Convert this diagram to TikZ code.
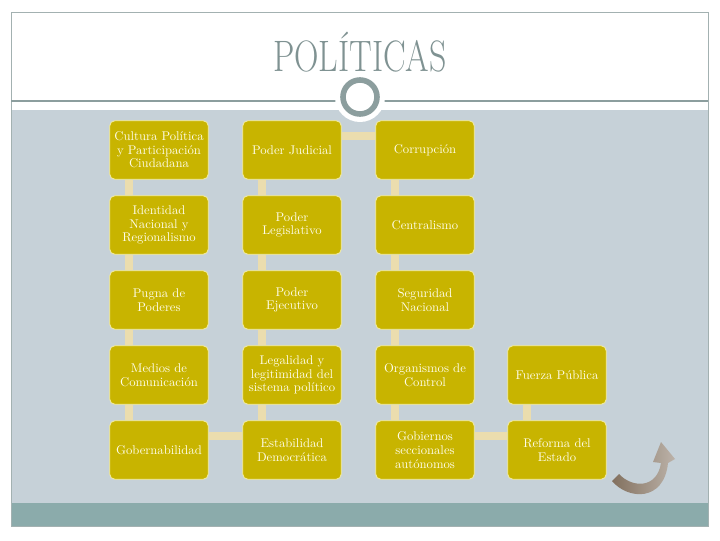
\documentclass[tikz,border=0pt]{standalone}
\usepackage{graphicx}
\usetikzlibrary{calc}

\definecolor{fondo}{HTML}{C6D1D8}
\definecolor{barra}{HTML}{8BABAB}
\definecolor{gris}{HTML}{8C9E9E}
\definecolor{titulo}{HTML}{7F9292}
\definecolor{oro}{HTML}{C8B400}
\definecolor{borde}{HTML}{F5EFA8}
\definecolor{beige}{HTML}{EBDDAE}
\definecolor{texto}{HTML}{FFFDE8}

\tikzset{
  caja/.style={draw=borde, fill=oro, rounded corners=4pt, line width=0.6pt,
    minimum width=74pt, minimum height=44pt, align=center, text=texto,
    font=\fontsize{9.5}{10.2}\selectfont, inner sep=1pt},
  conector/.style={draw=beige, line width=6pt}
}

\begin{document}
\begin{tikzpicture}[x=0.75pt, y=-0.75pt]
  \useasboundingbox (0,0) rectangle (720,540);
  % fondo de la diapositiva
  \fill[white] (11,12) rectangle (708,526);
  \fill[fondo] (11,110) rectangle (708,503);
  \fill[barra] (11,503) rectangle (708,526);
  \draw[gris!80, line width=0.6pt] (11,12) rectangle (708,526);
  \draw[gris, line width=0.8pt] (11,101) -- (708,101);
  % circulo
  \coordinate (O) at (360,97);
  \fill[white] (O) circle (25);
  \draw[gris, line width=4.2pt] (O) circle (17);
  \node[text=titulo, font=\fontsize{33}{36}\selectfont] (tit) at (360,52)
    {\scalebox{0.77}[1]{POLÍTICAS}};

  % columna 1
  \node[caja] (cult)  at (159,150) {Cultura Política\\y Participación\\Ciudadana};
  \node[caja] (ident) at (159,225) {Identidad\\Nacional y\\Regionalismo};
  \node[caja] (pugna) at (159,300) {Pugna de\\Poderes};
  \node[caja] (medios) at (159,375) {Medios de\\Comunicación};
  \node[caja] (gober) at (159,450) {Gobernabilidad};
  % columna 2
  \node[caja] (judi)  at (292,150) {Poder Judicial};
  \node[caja] (legis) at (292,225) {Poder\\Legislativo};
  \node[caja] (ejec)  at (292,300) {Poder\\Ejecutivo};
  \node[caja] (legal) at (292,375) {Legalidad y\\legitimidad del\\sistema político};
  \node[caja] (estab) at (292,450) {Estabilidad\\Democrática};
  % columna 3
  \node[caja] (corr)  at (425,150) {Corrupción};
  \node[caja] (centr) at (425,225) {Centralismo};
  \node[caja] (segur) at (425,300) {Seguridad\\Nacional};
  \node[caja] (organ) at (425,375) {Organismos de\\Control};
  \node[caja] (gobie) at (425,450) {Gobiernos\\seccionales\\autónomos};
  % columna 4
  \node[caja] (fuerza) at (557,375) {Fuerza Pública};
  \node[caja] (refor)  at (557,450) {Reforma del\\Estado};

  % conectores verticales
  \foreach \a/\b in {cult/ident, ident/pugna, pugna/medios, medios/gober,
      judi/legis, legis/ejec, ejec/legal, legal/estab,
      corr/centr, centr/segur, segur/organ, organ/gobie, fuerza/refor}
    \draw[conector] ($(\a.south west)+(20,0)$) -- ($(\b.north west)+(20,0)$);
  % conectores horizontales
  \foreach \a/\b in {judi/corr, gober/estab, gobie/refor}
    \draw[conector] ($(\a.east)+(0,-14)$) -- ($(\b.west)+(0,-14)$);

  % flecha curva
  \shade[left color=black!60!brown!70, right color=gray!75!brown!60]
    (612,481) .. controls (628,500) and (664,502) .. (668,463)
    -- (675,459) -- (661,442) -- (653,462) -- (661,463)
    .. controls (657,489) and (632,488) .. (619,474) -- cycle;
\end{tikzpicture}
\end{document}
